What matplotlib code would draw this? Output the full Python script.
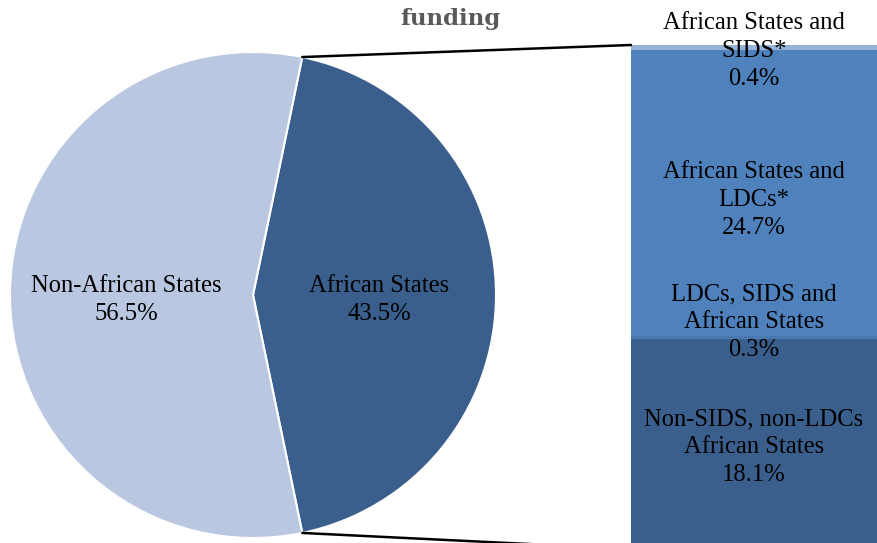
import matplotlib
matplotlib.use("Agg")
import matplotlib.pyplot as plt
from matplotlib.patches import ConnectionPatch
import numpy as np

pie_labels = ["African States", "Non-African States"]
pie_values = [43.5, 56.5]
pie_colors = ["#3B5F8D", "#BAC7E0"]

bar_labels = ["Non-SIDS, non-LDCs\nAfrican States", "LDCs, SIDS and\nAfrican States",
              "African States and\nLDCs*", "African States and\nSIDS*"]
bar_values = [18.1, 0.3, 24.7, 0.4]
bar_colors = ["#3B5F8D", "#4A79B2", "#4F81BD", "#95B3D7"]
title_text = "funding"

W, H = 877, 543
fig = plt.figure(figsize=(W / 100, H / 100), dpi=100)
FONT = "Liberation Serif"
FS = 17.7
LS = 1.33

def fx(px): return px / W
def fy(py): return (H - py) / H

# pie axes
cx, cy, r = 253, 295, 243
axp = fig.add_axes([fx(cx - r), fy(cy + r), 2 * r / W, 2 * r / H])
total = sum(pie_values)
start = -pie_values[0] / total * 360 / 2
wedges, _ = axp.pie(pie_values, colors=pie_colors, startangle=start, counterclock=True,
                    wedgeprops=dict(edgecolor="white", linewidth=1.5), radius=1)
axp.set_xlim(-1, 1)
axp.set_ylim(-1, 1)
axp.set_aspect("auto")
axp.axis("off")
cum = 0
for lab, v in zip(pie_labels, pie_values):
    a = np.deg2rad(start + (cum + v / 2) / total * 360)
    cum += v
    rr = 0.52
    axp.text(rr * np.cos(a), rr * np.sin(a) - 0.02, f"{lab}\n{v}%", ha="center", va="center",
             family=FONT, fontsize=FS, linespacing=LS)

# bar axes
bx0, bx1, by0, by1 = 631, 877, 45, 549
axb = fig.add_axes([fx(bx0), fy(by1), (bx1 - bx0) / W, (by1 - by0) / H])
bottom = 0
for lab, v, c in zip(bar_labels, bar_values, bar_colors):
    axb.bar(0, v, bottom=bottom, color=c, width=1.0, align="edge")
    bottom += v
axb.set_xlim(0, 1)
axb.set_ylim(0, sum(bar_values))
axb.axis("off")

label_y = [447, 322, 200, 51]
for lab, v, py in zip(bar_labels, bar_values, label_y):
    fig.text(fx(754), fy(py), f"{lab}\n{v}%", ha="center", va="center",
             family=FONT, fontsize=FS, linespacing=LS)

# connectors
theta1 = np.deg2rad(start + pie_values[0] / total * 360)
theta0 = np.deg2rad(start)
for th, yb in [(theta1, sum(bar_values)), (theta0, 0)]:
    con = ConnectionPatch(xyA=(np.cos(th), np.sin(th)), coordsA=axp.transData,
                          xyB=(0, yb), coordsB=axb.transData, color="black", lw=1.8)
    fig.add_artist(con)

fig.text(fx(450), fy(19), title_text, ha="center", va="center", family="DejaVu Serif",
         fontsize=16.5, fontweight="bold", color="#595959")

fig.savefig("out.png", dpi=100)
